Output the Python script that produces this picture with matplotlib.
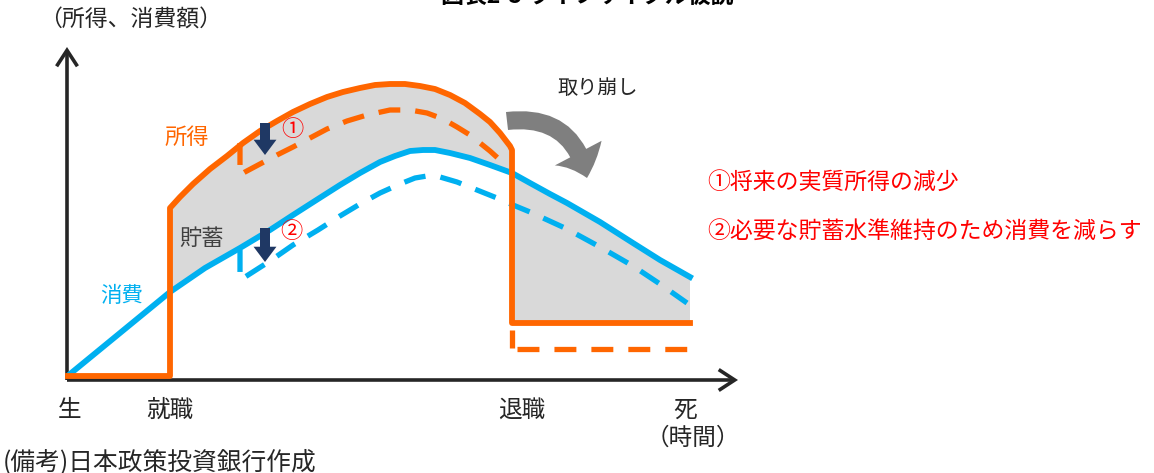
import numpy as np
import matplotlib
matplotlib.use("Agg")
import matplotlib.pyplot as plt
from matplotlib.patches import FancyArrowPatch

plt.rcParams['font.family'] = ['Noto Sans CJK JP', 'DejaVu Sans']
plt.rcParams['lines.scale_dashes'] = False

# ---- data (time t, amount a) ----
income_t = [1, 103, 103, 113, 126, 143, 160, 176, 193, 210, 226, 243, 260, 276, 293,
            308, 323, 338, 353, 368, 383, 398, 413, 423, 433, 443, 445, 445, 623]
income_a = [4, 4, 172, 183, 196, 211, 224, 237, 249, 259, 268, 276, 283, 288, 292,
            295, 296, 296, 294, 291, 285, 277, 266, 258, 247, 234, 230, 57, 57]

income_cut_t = [173, 173, 178, 193, 210, 226, 243, 260, 280, 300, 323, 343, 360, 376,
                390, 403, 413, 423, 433]
income_cut_a = [237, 205, 208, 216, 225, 233, 242, 251, 259, 265, 270, 270, 267, 261,
                253, 245, 237, 229, 220]

pension_cut_vt = [445, 445]
pension_cut_va = [50, 32]
pension_cut_t = [450, 621]
pension_cut_a = [31, 31]

cons_t = [3, 53, 103, 138, 173, 203, 226, 251, 273, 293, 313, 328, 343, 356, 368, 383,
          403, 423, 445, 463, 483, 500, 533, 566, 593, 623]
cons_a = [6, 47, 88, 112, 132, 150, 165, 181, 195, 207, 218, 224, 229, 230, 230, 227,
          222, 215, 207, 197, 186, 177, 158, 137, 120, 103]

cons_cut_t = [173, 173, 178, 203, 226, 251, 273, 293, 313, 333, 348, 360, 373, 390, 410,
              430, 446, 463, 500, 533, 566, 593, 620]
cons_cut_a = [130, 100, 103, 119, 135, 150, 164, 176, 187, 196, 202, 204, 203, 198, 190,
              182, 175, 168, 151, 133, 114, 96, 77]

drop1 = (198, 257, 225)   # t, from a, to a
drop2 = (198, 152, 118)

milestones = ['生', '就職', '退職', '死']
milestone_t = [3, 103, 455, 618]

right_notes = ['①将来の実質所得の減少', '②必要な貯蓄水準維持のため消費を減らす']

ORANGE = '#FF6600'
BLUE = '#00B0F0'
GRAY_FILL = '#D9D9D9'
NAVY = '#1F3864'
DARK = '#262626'
RED = '#FF0000'

fig = plt.figure(figsize=(11.54, 4.73), dpi=100)
ax = fig.add_axes([0, 0, 1, 1])
ax.set_xlim(-67, 1154 - 67)
ax.set_ylim(380 - 473, 380)
ax.axis('off')

# saving fill (income above consumption while working, consumption above pension after)
it = np.array(income_t); ia = np.array(income_a)
ct = np.array(cons_t); ca = np.array(cons_a)
mask = ct >= 103
poly_t = np.concatenate([it[2:], ct[mask][::-1]])
poly_a = np.concatenate([ia[2:], ca[mask][::-1]])
ax.fill(poly_t, poly_a, color=GRAY_FILL, lw=0, zorder=1)

# axes with open arrowheads
for end in [(0, 333), (671, 0)]:
    ax.annotate('', xy=end, xytext=(0, 0),
                arrowprops=dict(arrowstyle='->,head_length=11.5,head_width=7.5',
                                mutation_scale=1, lw=2.6, color=DARK,
                                shrinkA=0, shrinkB=0, joinstyle='miter',
                                capstyle='butt'), zorder=2)

lw = 4.2
dash = (15.8, 10.8)
ax.plot(income_t, income_a, color=ORANGE, lw=lw, solid_joinstyle='round', zorder=4)
ax.plot(cons_t, cons_a, color=BLUE, lw=lw, solid_joinstyle='round', zorder=3)
for xs, ys, c in [(income_cut_t, income_cut_a, ORANGE),
                  (cons_cut_t, cons_cut_a, BLUE),
                  (pension_cut_vt, pension_cut_va, ORANGE),
                  (pension_cut_t, pension_cut_a, ORANGE)]:
    ax.plot(xs, ys, color=c, lw=lw - 0.4, dashes=dash, dash_capstyle='butt',
            dash_joinstyle='round', zorder=3)

# navy down arrows
for t, a0, a1 in [drop1, drop2]:
    ax.annotate('', xy=(t, a1), xytext=(t, a0),
                arrowprops=dict(arrowstyle='simple,head_length=11,head_width=16.5,tail_width=7.2',
                                mutation_scale=1, color=NAVY, lw=0,
                                shrinkA=0, shrinkB=0), zorder=5)

# gray curved arrow (取り崩し)
curved = FancyArrowPatch((440, 259), (520, 202),
                         connectionstyle='arc3,rad=-0.45',
                         arrowstyle='simple,head_length=19,head_width=38,tail_width=13',
                         mutation_scale=1, color='#7F7F7F', lw=0,
                         shrinkA=0, shrinkB=0, zorder=5)
ax.add_patch(curved)

# texts
ax.text(64, 360, '（所得、消費額）', fontsize=16.5, color=DARK, ha='center', va='center')
ax.text(120, 243, '所得', fontsize=16, color=ORANGE, ha='center', va='center')
ax.text(135, 142, '貯蓄', fontsize=16, color='#404040', ha='center', va='center')
ax.text(55, 84, '消費', fontsize=15.5, color=BLUE, ha='center', va='center')
ax.text(225, 250, '①', fontsize=16, color=RED, ha='center', va='center')
ax.text(224, 148, '②', fontsize=16, color=RED, ha='center', va='center')
ax.text(531, 292, '取り崩し', fontsize=14.5, color=DARK, ha='center', va='center')
for i, s in enumerate(right_notes):
    ax.text(640, 198 - 50 * i, s, fontsize=16.5, color=RED, ha='left', va='center')
for s, t in zip(milestones, milestone_t):
    ax.text(t, -30, s, fontsize=17, color=DARK, ha='center', va='center')
ax.text(626, -58, '（時間）', fontsize=17, color=DARK, ha='center', va='center')
ax.text(-64, -82, '(備考)日本政策投資銀行作成', fontsize=17.8, color=DARK, ha='left', va='center')

fig.text(0.509, 1 - 3 / 473, '図表2-5 ライフサイクル仮説', fontsize=16.5, color='black',
         ha='center', va='baseline', fontweight='bold')

fig.savefig('out.png', dpi=100)
